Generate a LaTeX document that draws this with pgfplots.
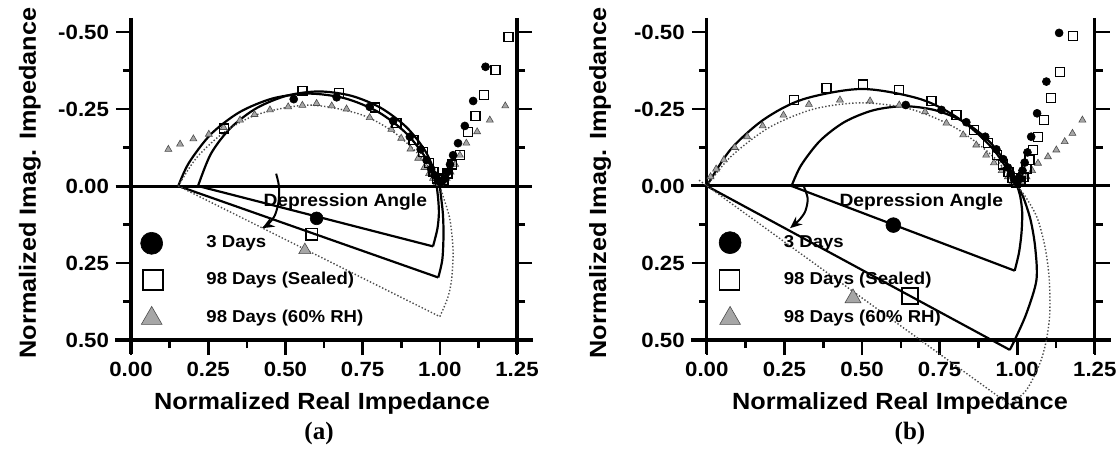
\documentclass[border=0pt]{standalone}
\usepackage{pgfplots}
\pgfplotsset{compat=1.18}
\usepackage{fontspec}
\setmainfont{Liberation Sans}[FakeStretch=1.08]
\newfontfamily\serifb{Liberation Serif}
\usetikzlibrary{arrows.meta}

\tikzset{legtxt/.style={anchor=west, inner sep=0pt, font=\fontsize{8.6}{10}\selectfont\bfseries}}
\pgfplotsset{
 common/.style={
  scale only axis, height=154pt,
  xmin=0, xmax=1.25, ymin=-0.5, ymax=0.5, y dir=reverse,
  clip=false, anchor=center,
  axis line style={line width=1.6pt, -},
  x axis line style={shorten <=-8pt, shorten >=-8pt},
  y axis line style={shorten <=-7pt, shorten >=-7pt},
  tick align=outside,
  major tick length=7.5pt, minor tick length=4pt,
  every tick/.style={black, line width=1.3pt},
  ytick={-0.5,-0.25,0,0.25,0.5},
  minor ytick={-0.375,-0.125,0.125,0.375},
  tick label style={font=\fontsize{10.3}{12}\selectfont\bfseries},
 },
 panel/.style={common,
  axis x line*=bottom, axis y line*=left,
  xtick={0,0.25,0.5,0.75,1,1.25},
  xticklabels={0.00,0.25,0.50,0.75,1.00,1.25},
  minor xtick={0.125,0.375,0.625,0.875,1.125},
  yticklabels={-0.50,-0.25,0.00,0.25,0.50},
 },
 rpanel/.style={common,
  axis x line=none, axis y line*=right,
  yticklabels={},
 },
 circ/.style={only marks, mark=*, mark options={fill=black, draw=black, line width=0.3pt}, mark size=2pt},
 sq/.style={only marks, mark=square, mark options={draw=black, line width=0.7pt}, mark size=2.25pt},
 tri/.style={only marks, mark=triangle*, mark options={fill=gray!70, draw=gray!60!black, line width=0.3pt}, mark size=2pt},
 fitk/.style={black, line width=1.1pt, no marks},
 fitg/.style={gray!60!black, line width=0.7pt, densely dotted, no marks},
}

\begin{document}
\begin{tikzpicture}
% ---------------- panel (a) ----------------
\begin{axis}[panel, width=193pt, at={(162pt,131.5pt)}]
\addplot[black, line width=1.5pt] coordinates {(-0.05,0) (1.30,0)};
% fitted arcs
\addplot[fitk, smooth] coordinates {(0.153,0)(0.1877,-0.0755)(0.259,-0.1685)(0.352,-0.240)(0.4603,-0.2847)(0.5765,-0.300)(0.6927,-0.2847)(0.801,-0.240)(0.894,-0.1685)(0.965,-0.0755)(1.0,0)};
\addplot[fitk, smooth] coordinates {(0.217,0)(0.259,-0.105)(0.323,-0.189)(0.407,-0.253)(0.504,-0.293)(0.6085,-0.307)(0.713,-0.293)(0.810,-0.253)(0.894,-0.189)(0.958,-0.105)(1.0,0)};
\addplot[fitg, smooth] coordinates {(0.153,0)(0.2143,-0.094)(0.3053,-0.177)(0.4148,-0.234)(0.5765,-0.2626)(0.7382,-0.234)(0.8477,-0.177)(0.939,-0.094)(1.0,0)};
% depression angle constructions
\addplot[fitk] coordinates {(0.217,0)(0.978,0.196)};
\addplot[fitk, smooth] coordinates {(0.978,0.196)(0.992,0.14)(0.997,0.09)(0.995,0.045)(0.99,0)};
\addplot[fitk] coordinates {(0.153,0)(0.995,0.297)};
\addplot[fitk, smooth] coordinates {(0.995,0.297)(1.008,0.24)(1.012,0.16)(1.01,0.09)(1.004,0.035)(1.0,0)};
\addplot[fitg] coordinates {(0.153,0)(1.0,0.424)};
\addplot[fitg, smooth] coordinates {(1.0,0.424)(1.025,0.365)(1.038,0.305)(1.043,0.21)(1.033,0.11)(1.013,0.04)(1.0,0)};
\addplot[black, line width=1pt, smooth, -{Stealth[length=6pt,width=5pt]}] coordinates {(0.47,-0.04)(0.479,0.0)(0.478,0.05)(0.466,0.095)(0.445,0.123)(0.425,0.137)};
% data
\addplot[tri] coordinates {(0.121,-0.119)(0.159,-0.136)(0.202,-0.153)(0.252,-0.168)(0.30,-0.19)(0.353,-0.214)(0.40,-0.232)(0.45,-0.247)(0.509,-0.257)(0.555,-0.262)(0.601,-0.268)(0.65,-0.26)(0.698,-0.25)(0.773,-0.222)(0.843,-0.184)(0.875,-0.155)(0.905,-0.12)(0.93,-0.09)(0.95,-0.06)(0.965,-0.04)(0.978,-0.025)(0.99,-0.012)(1.0,-0.008)(1.01,-0.012)(1.022,-0.025)(1.035,-0.045)(1.05,-0.07)(1.065,-0.1)(1.086,-0.139)(1.121,-0.176)(1.162,-0.214)(1.212,-0.26)};
\addplot[sq] coordinates {(0.302,-0.187)(0.556,-0.308)(0.674,-0.301)(0.79,-0.255)(0.86,-0.205)(0.915,-0.15)(0.945,-0.11)(0.965,-0.075)(0.98,-0.045)(0.99,-0.025)(1.0,-0.012)(1.012,-0.02)(1.025,-0.04)(1.04,-0.07)(1.065,-0.100)(1.092,-0.176)(1.115,-0.227)(1.144,-0.295)(1.180,-0.377)(1.223,-0.484)};
\addplot[circ] coordinates {(0.527,-0.282)(0.666,-0.288)(0.773,-0.257)(0.849,-0.211)(0.903,-0.160)(0.938,-0.119)(0.957,-0.084)(0.972,-0.055)(0.983,-0.035)(0.993,-0.018)(1.003,-0.012)(1.013,-0.022)(1.024,-0.045)(1.033,-0.07)(1.043,-0.100)(1.059,-0.139)(1.081,-0.195)(1.108,-0.276)(1.148,-0.387)};
% centres
\addplot[circ, mark size=3.2pt] coordinates {(0.601,0.105)};
\addplot[sq, mark size=2.9pt] coordinates {(0.585,0.157)};
\addplot[tri, mark size=3.5pt] coordinates {(0.563,0.208)};
% legend
\addplot[circ, mark size=5.5pt] coordinates {(0.067,0.186)};
\addplot[sq, mark size=5pt, mark options={line width=0.9pt}] coordinates {(0.07,0.305)};
\addplot[tri, mark size=6pt] coordinates {(0.067,0.43)};
\node[legtxt] at (axis cs:0.243,0.185) {3 Days};
\node[legtxt] at (axis cs:0.243,0.305) {98 Days (Sealed)};
\node[legtxt] at (axis cs:0.243,0.43) {98 Days (60\% RH)};
\node[legtxt, anchor=center, font=\fontsize{8.9}{10}\selectfont\bfseries] at (axis cs:0.694,0.051) {Depression Angle};
\end{axis}
\begin{axis}[rpanel, width=193pt, at={(162pt,131.5pt)}]
\end{axis}
% ---------------- panel (b) ----------------
\begin{axis}[panel, width=194pt, at={(450.4pt,131.5pt)}]
\addplot[black, line width=1.5pt] coordinates {(-0.05,0) (1.30,0)};
\addplot[fitk, smooth] coordinates {(0,0)(0.0754,-0.117)(0.182,-0.2148)(0.3104,-0.2816)(0.5,-0.315)(0.6896,-0.2816)(0.818,-0.2148)(0.9246,-0.117)(1.0,0)};
\addplot[fitk, smooth] coordinates {(0.273,0)(0.3036,-0.067)(0.365,-0.147)(0.444,-0.208)(0.537,-0.246)(0.6365,-0.259)(0.736,-0.246)(0.829,-0.208)(0.908,-0.147)(0.969,-0.067)(1.0,0)};
\addplot[fitg, smooth] coordinates {(0,0)(0.0771,-0.095)(0.201,-0.19)(0.3452,-0.25)(0.5,-0.27)(0.6548,-0.25)(0.799,-0.19)(0.9229,-0.095)(1.0,0)};
\addplot[fitk] coordinates {(0.273,0)(0.992,0.275)};
\addplot[fitk, smooth] coordinates {(0.992,0.275)(1.006,0.215)(1.014,0.15)(1.016,0.085)(1.01,0.035)(1.0,0)};
\addplot[fitk] coordinates {(0,0)(0.976,0.532)};
\addplot[fitk, smooth] coordinates {(0.976,0.532)(0.992,0.5)(1.03,0.413)(1.062,0.305)(1.058,0.2)(1.043,0.11)(1.019,0.035)(1.0,0)};
\addplot[fitg] coordinates {(-0.025,-0.019)(0.976,0.71)};
\addplot[fitg, smooth] coordinates {(0.976,0.71)(1.03,0.662)(1.073,0.576)(1.094,0.5)(1.105,0.413)(1.103,0.3)(1.09,0.2)(1.065,0.105)(1.03,0.04)(1.0,0)};
\addplot[black, line width=1pt, smooth, -{Stealth[length=6pt,width=5pt]}] coordinates {(0.312,0)(0.325,0.04)(0.318,0.08)(0.30,0.108)(0.268,0.137)};
\addplot[tri] coordinates {(0.012,-0.03)(0.03,-0.055)(0.055,-0.085)(0.09,-0.125)(0.13,-0.16)(0.18,-0.195)(0.247,-0.23)(0.329,-0.265)(0.429,-0.279)(0.526,-0.276)(0.620,-0.263)(0.703,-0.241)(0.772,-0.204)(0.826,-0.166)(0.868,-0.133)(0.90,-0.10)(0.925,-0.075)(0.95,-0.05)(0.97,-0.03)(0.985,-0.015)(1.0,-0.008)(1.015,-0.015)(1.03,-0.03)(1.048,-0.05)(1.067,-0.074)(1.099,-0.095)(1.126,-0.117)(1.153,-0.144)(1.178,-0.171)(1.210,-0.214)};
\addplot[sq] coordinates {(0.281,-0.279)(0.386,-0.319)(0.504,-0.330)(0.620,-0.312)(0.724,-0.276)(0.804,-0.230)(0.860,-0.182)(0.906,-0.139)(0.935,-0.10)(0.955,-0.07)(0.972,-0.045)(0.985,-0.025)(0.997,-0.012)(1.01,-0.015)(1.02,-0.03)(1.030,-0.055)(1.040,-0.084)(1.051,-0.117)(1.067,-0.160)(1.087,-0.214)(1.108,-0.285)(1.137,-0.371)(1.180,-0.487)};
\addplot[circ] coordinates {(0.641,-0.263)(0.756,-0.247)(0.836,-0.207)(0.897,-0.160)(0.933,-0.119)(0.955,-0.087)(0.97,-0.06)(0.98,-0.04)(0.99,-0.022)(1.0,-0.012)(1.01,-0.025)(1.017,-0.05)(1.024,-0.076)(1.033,-0.109)(1.045,-0.160)(1.064,-0.236)(1.094,-0.339)(1.135,-0.497)};
\addplot[circ, mark size=3.7pt] coordinates {(0.601,0.127)};
\addplot[sq, mark size=4pt] coordinates {(0.654,0.357)};
\addplot[tri, mark size=4.6pt] coordinates {(0.471,0.364)};
\addplot[circ, mark size=5.5pt] coordinates {(0.075,0.184)};
\addplot[sq, mark size=5pt, mark options={line width=0.9pt}] coordinates {(0.073,0.305)};
\addplot[tri, mark size=6pt] coordinates {(0.075,0.43)};
\node[legtxt] at (axis cs:0.247,0.185) {3 Days};
\node[legtxt] at (axis cs:0.247,0.305) {98 Days (Sealed)};
\node[legtxt] at (axis cs:0.247,0.43) {98 Days (60\% RH)};
\node[legtxt, anchor=center, font=\fontsize{8.9}{10}\selectfont\bfseries] at (axis cs:0.691,0.051) {Depression Angle};
\end{axis}
\begin{axis}[rpanel, width=194pt, at={(450.4pt,131.5pt)}]
\end{axis}
% ---------------- labels ----------------
\node[rotate=90, font=\fontsize{11.7}{14}\selectfont\bfseries] at (15pt,133pt) {Normalized Imag. Impedance};
\node[rotate=90, font=\fontsize{11.7}{14}\selectfont\bfseries] at (300pt,133pt) {Normalized Imag. Impedance};
\node[font=\fontsize{11.7}{14}\selectfont\bfseries] at (161pt,23pt) {Normalized Real Impedance};
\node[font=\fontsize{11.7}{14}\selectfont\bfseries] at (450pt,23pt) {Normalized Real Impedance};
\node[font=\fontsize{12.5}{14}\selectfont\serifb\bfseries] at (159.5pt,8pt) {(a)};
\node[font=\fontsize{12.5}{14}\selectfont\serifb\bfseries] at (455pt,8pt) {(b)};
\pgfresetboundingbox
\path[use as bounding box] (0,0) rectangle (559pt,224.5pt);
\end{tikzpicture}
\end{document}
